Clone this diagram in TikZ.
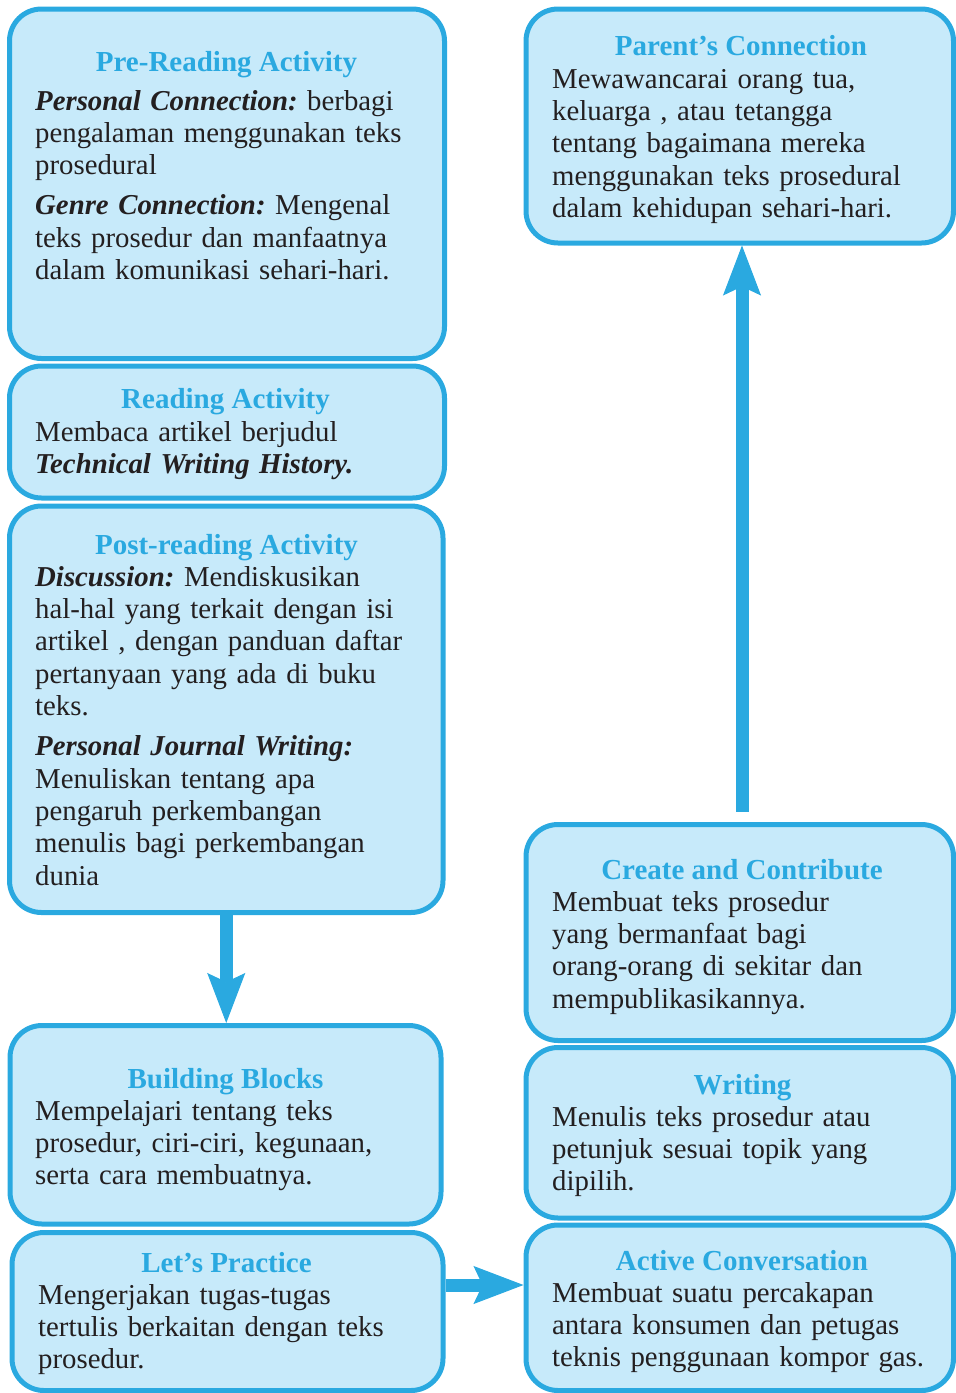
\documentclass[tikz,border=0pt]{standalone}
\usepackage{fontspec}
\setmainfont{Liberation Serif}
\usetikzlibrary{arrows.meta}
\definecolor{cardline}{HTML}{2AA9E0}
\definecolor{cardfill}{HTML}{C7EAFA}
\definecolor{ink}{HTML}{231F20}
\tikzset{
  card/.style={draw=cardline, fill=cardfill, line width=5pt, rounded corners=32pt, inner sep=0pt},
  head/.style={anchor=base, inner sep=0pt, text=cardline, font=\fontsize{29}{32.4}\selectfont\bfseries},
  body/.style={anchor=base west, inner sep=0pt, text=ink, text width=410pt, align=left, font=\fontsize{28.8}{32.4}\selectfont\frenchspacing},
  flow/.style={draw=cardline, line width=13pt, -{Stealth[length=50pt, width=38pt, inset=9pt, line width=1pt]}},
}
\newcommand{\leadin}[1]{\textbf{\textit{#1}}}
\frenchspacing

\begin{document}
\begin{tikzpicture}[x=1pt, y=-1pt]
  \useasboundingbox (0,0) rectangle (956,1393);
  \node[card, minimum width=435pt, minimum height=349.5pt] (pre) at (227,183.75) {};
  \node[card, minimum width=435pt, minimum height=132pt] (read) at (227,432) {};
  \node[card, minimum width=433.5pt, minimum height=406.5pt] (post) at (226.25,709.25) {};
  \node[card, minimum width=431pt, minimum height=198.5pt] (build) at (225.5,1124.75) {};
  \node[card, minimum width=431pt, minimum height=158pt] (prac) at (227.5,1311.5) {};
  \node[card, minimum width=427.5pt, minimum height=234pt] (parent) at (739.75,126) {};
  \node[card, minimum width=427.5pt, minimum height=216pt] (create) at (739.75,932.5) {};
  \node[card, minimum width=427.5pt, minimum height=170.5pt] (write) at (739.75,1132.75) {};
  \node[card, minimum width=427.5pt, minimum height=165.5pt] (act) at (739.75,1307.75) {};

  \draw[flow] (post.south) -- (post.south |- build.north);
  \draw[flow] ([yshift=26.5pt]prac.east) -- ([yshift=26.5pt]prac.east -| act.west);
  \draw[flow, shorten <=10.3pt] ([xshift=2.25pt]create.north) -- ([xshift=2.25pt]parent.south);

  \node[head] (preH) at (226.5,71) {Pre-Reading Activity};
  \node[body] (preB) at (35,110) {\leadin{Personal Connection:} berbagi\\
    pengalaman menggunakan teks\\ prosedural\\[7.6pt]
    \leadin{Genre Connection:} Mengenal\\ teks prosedur dan manfaatnya\\
    dalam komunikasi sehari-hari.};

  \node[head] (readH) at (225.5,408) {Reading Activity};
  \node[body] (readB) at (35,441) {Membaca artikel berjudul\\
    \leadin{Technical Writing History.}};

  \node[head] (postH) at (226.5,554) {Post-reading Activity};
  \node[body] (postB) at (35,586) {\leadin{Discussion:} Mendiskusikan\\
    hal-hal yang terkait dengan isi\\ artikel , dengan panduan daftar\\
    pertanyaan yang ada di buku\\ teks.\\[7.6pt]
    \leadin{Personal Journal Writing:}\\ Menuliskan tentang apa\\
    pengaruh perkembangan\\ menulis bagi perkembangan\\ dunia};

  \node[head] (buildH) at (225.5,1088) {Building Blocks};
  \node[body] (buildB) at (35,1120) {Mempelajari tentang teks\\
    prosedur, ciri-ciri, kegunaan,\\ serta cara membuatnya.};

  \node[head] (pracH) at (226.5,1272) {Let’s Practice};
  \node[body] (pracB) at (38,1304) {Mengerjakan tugas-tugas\\
    tertulis berkaitan dengan teks\\ prosedur.};

  \node[head] (parentH) at (741,55) {Parent’s Connection};
  \node[body] (parentB) at (552,88) {Mewawancarai orang tua,\\
    keluarga , atau tetangga\\ tentang bagaimana mereka\\
    menggunakan teks prosedural\\ dalam kehidupan sehari-hari.};

  \node[head] (createH) at (742,879) {Create and Contribute};
  \node[body] (createB) at (552,911) {Membuat teks prosedur\\
    yang bermanfaat bagi\\ orang-orang di sekitar dan\\ mempublikasikannya.};

  \node[head] (writeH) at (742.5,1094) {Writing};
  \node[body] (writeB) at (552,1126) {Menulis teks prosedur atau\\
    petunjuk sesuai topik yang\\ dipilih.};

  \node[head] (actH) at (742,1270) {Active Conversation};
  \node[body] (actB) at (552,1302) {Membuat suatu percakapan\\
    antara konsumen dan petugas\\ teknis penggunaan kompor gas.};
\end{tikzpicture}
\end{document}
